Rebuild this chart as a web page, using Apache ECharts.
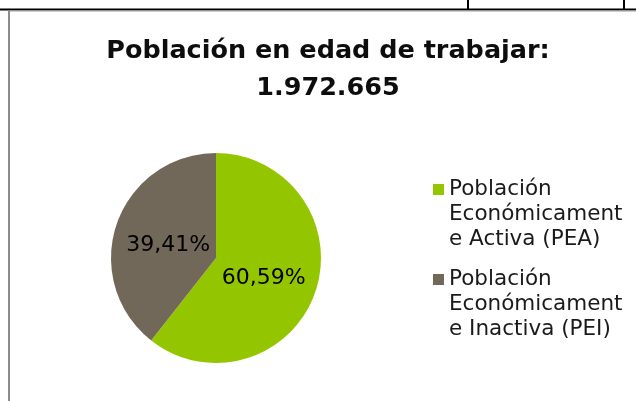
<!DOCTYPE html>
<html lang="es">
<head>
<meta charset="utf-8">
<title>Población en edad de trabajar</title>
<script src="https://cdn.jsdelivr.net/npm/echarts@6/dist/echarts.min.js"></script>
<style>
  html, body { margin: 0; padding: 0; background: #fff; }
  #main { width: 636px; height: 401px; }
</style>
</head>
<body>
<div id="main"></div>
<script type="text/javascript">
  // chart data
  let titleText = 'Población en edad de trabajar:';
  let totalText = '1.972.665';
  let categories = ['Población Económicamente Activa (PEA)', 'Población Económicamente Inactiva (PEI)'];
  let legendLines = [
    ['Población', 'Económicament', 'e Activa (PEA)'],
    ['Población', 'Económicament', 'e Inactiva (PEI)']
  ];
  let shares = [60.59, 39.41];   // percent
  let sliceColors = ['#94c600', '#71685a'];

  let pieData = [];
  categories.forEach((c, i) => {
    pieData.push({ name: c, value: shares[i], itemStyle: { color: sliceColors[i] } });
  });

  // legend text: coloured square on the first line, indent on the others
  function legendFormatter(name) {
    let idx = categories.indexOf(name);
    let lines = legendLines[idx];
    let out = '{sq' + idx + '|}{sp|}{t|' + lines[0] + '}';
    for (let k = 1; k < lines.length; k++) {
      out += '\n{ind|}{t|' + lines[k] + '}';
    }
    return out;
  }

  let lh = 25;
  let rich = {
    t: { fontFamily: 'DejaVu Sans', fontSize: 21.5, color: '#1a1a1a', lineHeight: lh },
    sp: { width: 5, lineHeight: lh },
    ind: { width: 16, lineHeight: lh }
  };
  sliceColors.forEach((c, i) => {
    rich['sq' + i] = { width: 11, height: 11, backgroundColor: c, lineHeight: lh };
  });

  let chart = echarts.init(document.getElementById('main'));

  // pull the inside labels a bit towards the centre
  function labelPull(params) {
    let cx = 216, cy = 258, k = 0.91;
    let r = params.labelRect;
    let lx = r.x + r.width / 2, ly = r.y + r.height / 2;
    return { x: cx + (lx - cx) * k, y: cy + (ly - cy) * k + 3.5 };
  }

  let option = {
    animation: false,
    title: {
      text: titleText + '\n' + totalText,
      left: 323,
      top: 28,
      textAlign: 'center',
      textStyle: {
        fontFamily: 'DejaVu Sans',
        fontSize: 25.5,
        fontWeight: 'bold',
        color: '#0d0d0d',
        lineHeight: 37
      }
    },
    legend: {
      orient: 'vertical',
      left: 428,
      top: 178.5,
      padding: 0,
      itemGap: 18,
      itemWidth: 0,
      itemHeight: 11,
      icon: 'none',
      selectedMode: false,
      data: categories,
      formatter: legendFormatter,
      textStyle: { rich: rich }
    },
    graphic: [
      { type: 'line', shape: { x1: 0, y1: 9.5, x2: 636, y2: 9.5 }, style: { stroke: '#000', lineWidth: 2 } },
      { type: 'line', shape: { x1: 8, y1: 11, x2: 636, y2: 11 }, style: { stroke: '#a0a0a0', lineWidth: 1 } },
      { type: 'line', shape: { x1: 468, y1: 0, x2: 468, y2: 9 }, style: { stroke: '#000', lineWidth: 2 } },
      { type: 'line', shape: { x1: 624, y1: 0, x2: 624, y2: 9 }, style: { stroke: '#000', lineWidth: 2 } },
      { type: 'line', shape: { x1: 9, y1: 10, x2: 9, y2: 401 }, style: { stroke: '#8c8c8c', lineWidth: 2 } }
    ],
    series: [{
      type: 'pie',
      center: [216, 258],
      radius: 105,
      startAngle: 90,
      clockwise: true,
      emphasis: { scale: false },
      itemStyle: { borderWidth: 0 },
      label: {
        position: 'inside',
        fontFamily: 'DejaVu Sans',
        fontSize: 22,
        color: '#000',
        formatter: (p) => p.value.toFixed(2).replace('.', ',') + '%'
      },
      labelLayout: labelPull,
      labelLine: { show: false },
      data: pieData
    }]
  };

  chart.setOption(option);
</script>
</body>
</html>
